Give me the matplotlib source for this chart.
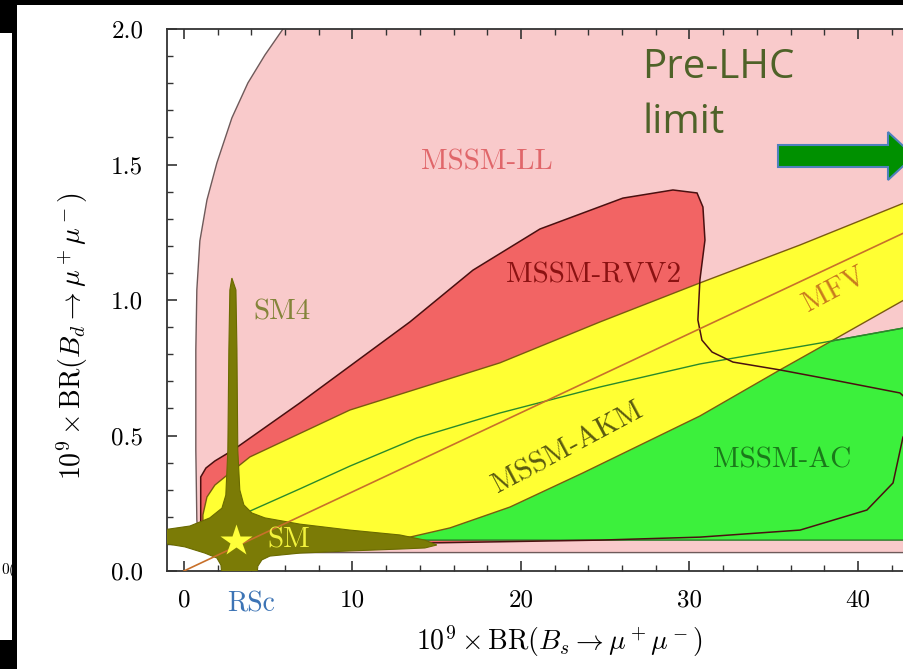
import numpy as np
import matplotlib
matplotlib.use("Agg")
import matplotlib.pyplot as plt
from matplotlib.patches import Polygon, Rectangle

plt.rcParams['mathtext.fontset'] = 'cm'
plt.rcParams['axes.unicode_minus'] = False

# ---------------- data ----------------
# region boundaries: x = 1e9*BR(Bs->mumu), y = 1e9*BR(Bd->mumu)
ll_x = [6.3, 5.88, 4.81, 3.80, 2.85, 1.96, 1.37, 0.95, 0.77, 0.71, 0.71, 0.77, 0.89, 1.19, 1.84, 46.0, 46.0]
ll_y = [2.05, 2.0, 1.904, 1.801, 1.672, 1.506, 1.369, 1.218, 1.037, 0.815, 0.446, 0.188, 0.114, 0.077, 0.068, 0.068, 2.05]

rvv2_x = [1.0, 1.0, 1.31, 1.84, 2.91, 6.88, 13.41, 17.15, 21.13, 26.05, 29.02, 30.45, 30.80, 30.92,
          30.62, 30.50, 30.74, 31.34, 32.58, 35.37, 38.52, 42.49, 43.7, 42.67, 42.08, 40.53,
          36.56, 30.62, 24.69, 15.0, 1.0]
rvv2_y = [0.100, 0.347, 0.380, 0.406, 0.446, 0.620, 0.919, 1.110, 1.262, 1.376, 1.406, 1.395, 1.343, 1.221,
          1.074, 0.926, 0.852, 0.808, 0.771, 0.742, 0.705, 0.657, 0.59, 0.494, 0.325, 0.225,
          0.151, 0.125, 0.114, 0.104, 0.100]

akm_x = [1.13, 1.13, 1.37, 1.84, 2.73, 3.92, 9.85, 18.75, 24.69, 30.62, 36.56, 42.73, 46.05,
         46.05, 42.73, 38.52, 35.37, 30.62, 23.68, 19.35, 15.79, 13.41, 6.88, 1.13]
akm_y = [0.111, 0.207, 0.273, 0.317, 0.362, 0.421, 0.594, 0.768, 0.919, 1.063, 1.203, 1.358, 1.443,
         1.111, 1.0, 0.852, 0.742, 0.572, 0.362, 0.236, 0.159, 0.125, 0.111, 0.111]

ac_x = [3.03, 3.92, 6.88, 9.85, 13.83, 18.75, 24.69, 30.62, 37.74, 42.73, 46.05, 46.05, 3.03]
ac_y = [0.151, 0.221, 0.303, 0.387, 0.491, 0.583, 0.679, 0.764, 0.841, 0.897, 0.926, 0.114, 0.114]

sm4_x = [2.85, 3.09, 3.15, 3.20, 3.32, 3.56, 4.04, 4.81, 6.88, 9.85, 12.82, 14.30, 15.01, 14.30,
         12.82, 9.85, 6.88, 5.10, 4.63, 4.39, 4.33, 2.26, 2.20, 1.96, 1.25, 0.06, -1.3, -1.3,
         0.36, 1.54, 2.26, 2.49, 2.61, 2.67, 2.73]
sm4_y = [1.081, 1.037, 0.815, 0.446, 0.299, 0.244, 0.214, 0.196, 0.173, 0.151, 0.133, 0.114, 0.096,
         0.085, 0.081, 0.074, 0.066, 0.055, 0.041, 0.018, -0.02, -0.02, 0.022, 0.048, 0.066, 0.089,
         0.103, 0.151, 0.166, 0.196, 0.232, 0.280, 0.446, 0.815, 1.037]

mfv_x = [0.0, 46.0]
mfv_ratio = 0.0292

sm_point = (3.1, 0.112)

x_major = [0, 10, 20, 30, 40]
x_major_labels = ['0', '10', '20', '30', '40']
y_major = [0.0, 0.5, 1.0, 1.5, 2.0]
y_major_labels = ['0.0', '0.5', '1.0', '1.5', '2.0']
rsc_x = 4

# ---------------- figure ----------------
W, H = 904, 669
fig = plt.figure(figsize=(W / 100, H / 100), dpi=100)
fig.patch.set_facecolor('white')


def fx(px):
    return px / W


def fy(py):
    return 1 - py / H


ax = fig.add_axes([fx(167), fy(571), fx(904) - fx(167), fy(29) - fy(571)])
ax.set_xlim(-1.0, (904 - 184) / 16.85)
ax.set_ylim(0.0, 2.0)

# fills
ax.add_patch(Polygon(np.column_stack([ll_x, ll_y]), closed=True, fc='#f9cacb', ec='#6e5a5a', lw=1.0, zorder=1))
ax.add_patch(Polygon(np.column_stack([rvv2_x, rvv2_y]), closed=True, fc='#f26464', ec='none', zorder=2))
ax.add_patch(Polygon(np.column_stack([ac_x, ac_y]), closed=True, fc='#3cf03c', ec='#2a7a2a', lw=1.0, zorder=3))
ax.add_patch(Polygon(np.column_stack([akm_x, akm_y]), closed=True, fc='#ffff33', ec='#7a5a10', lw=1.0, zorder=4))
# outlines on top
ax.plot(ac_x[:11], ac_y[:11], color='#2a8a2a', lw=1.0, zorder=5)
ax.add_patch(Polygon(np.column_stack([rvv2_x, rvv2_y]), closed=True, fc='none', ec='#4a1010', lw=1.1, zorder=6))
ax.add_patch(Polygon(np.column_stack([sm4_x, sm4_y]), closed=True, fc='#7b7b06', ec='#6a6a00', lw=0.8, zorder=7))
mfv_x = np.array(mfv_x)
ax.plot(mfv_x, mfv_ratio * mfv_x, color='#c8702a', lw=1.2, zorder=8)
ax.plot([sm_point[0]], [sm_point[1]], marker='*', ms=24, color='#ffff3a', mec='none', zorder=9)

# region labels
serif = 'cmr10'
lab = 21
ax.text(18.0, 1.509, 'MSSM-LL', color='#e0666a', fontsize=lab, family=serif, ha='center', va='center', zorder=10)
ax.text(24.3, 1.092, 'MSSM-RVV2', color='#8b1212', fontsize=lab, family=serif, ha='center', va='center', zorder=10)
ax.text(22.8, 0.455, 'MSSM-AKM', color='#5a5a10', fontsize=lab, family=serif, ha='center', va='center',
        rotation=28, rotation_mode='anchor', zorder=10)
ax.text(35.5, 0.41, 'MSSM-AC', color='#1a7a1a', fontsize=lab, family=serif, ha='center', va='center', zorder=10)
ax.text(38.6, 1.04, 'MFV', color='#c87a1e', fontsize=lab, family=serif, ha='center', va='center',
        rotation=28, rotation_mode='anchor', zorder=10)
ax.text(5.8, 0.956, 'SM4', color='#84843a', fontsize=lab, family=serif, ha='center', va='center', zorder=10)
ax.text(6.2, 0.114, 'SM', color='#f2f23c', fontsize=lab, family=serif, ha='center', va='center', zorder=10)

# axes styling
for s in ['left', 'bottom', 'top']:
    ax.spines[s].set_color('#333333')
    ax.spines[s].set_linewidth(1.3)
ax.spines['right'].set_visible(False)
ax.set_xticks(x_major)
ax.set_xticklabels(x_major_labels, family=serif, fontsize=18)
ax.set_xticks(np.arange(-0, 44, 2), minor=True)
ax.set_yticks(y_major)
ax.set_yticklabels(y_major_labels, family=serif, fontsize=18)
ax.set_yticks(np.arange(0, 2.01, 0.1), minor=True)
ax.tick_params(which='both', direction='in', top=True, right=False, color='#333333')
ax.tick_params(which='major', length=7, width=1.2)
ax.tick_params(which='minor', length=4, width=1.0)
ax.tick_params(axis='x', pad=13)
ax.tick_params(axis='y', pad=17)
ax.text(rsc_x, -0.062, 'RSc', transform=ax.get_xaxis_transform(), color='#3d74b5', fontsize=20,
        family=serif, ha='center', va='center', clip_on=False)

ax.set_xlabel(r'$10^9 \times \mathrm{BR}(B_s \to \mu^+\mu^-)$', fontsize=20)
ax.xaxis.set_label_coords(0.533, -0.096)
ax.set_ylabel(r'$10^9 \times \mathrm{BR}(B_d \to \mu^+\mu^-)$', fontsize=20)
ax.yaxis.set_label_coords(-0.1045, 0.434)

# slide annotations
fig.text(fx(642), fy(78), 'Pre-LHC', family='Open Sans', fontsize=29, color='#4f6228', va='baseline', ha='left')
fig.text(fx(642), fy(133), 'limit', family='Open Sans', fontsize=29, color='#4f6228', va='baseline', ha='left')
arrow_px = [(778, 145), (888, 145), (888, 132), (914, 156), (888, 180), (888, 167), (778, 167)]
fig.patches.append(Polygon([(fx(a), fy(b)) for a, b in arrow_px], closed=True, transform=fig.transFigure,
                           fc='#009000', ec='#4f81bd', lw=1.5, zorder=5))

# slide frame pieces
fig.text(fx(1), fy(570), '0(', family=serif, fontsize=11, color='black', ha='left', va='center', zorder=5)
for (x0, y0, x1, y1) in [(0, 0, 904, 5), (0, 0, 17, 33), (12, 0, 17, 669), (0, 640, 17, 669)]:
    fig.patches.append(Rectangle((fx(x0), fy(y1)), fx(x1) - fx(x0), fy(y0) - fy(y1), transform=fig.transFigure,
                                 fc='black', ec='none', zorder=10))

fig.savefig('out.png', dpi=100)
